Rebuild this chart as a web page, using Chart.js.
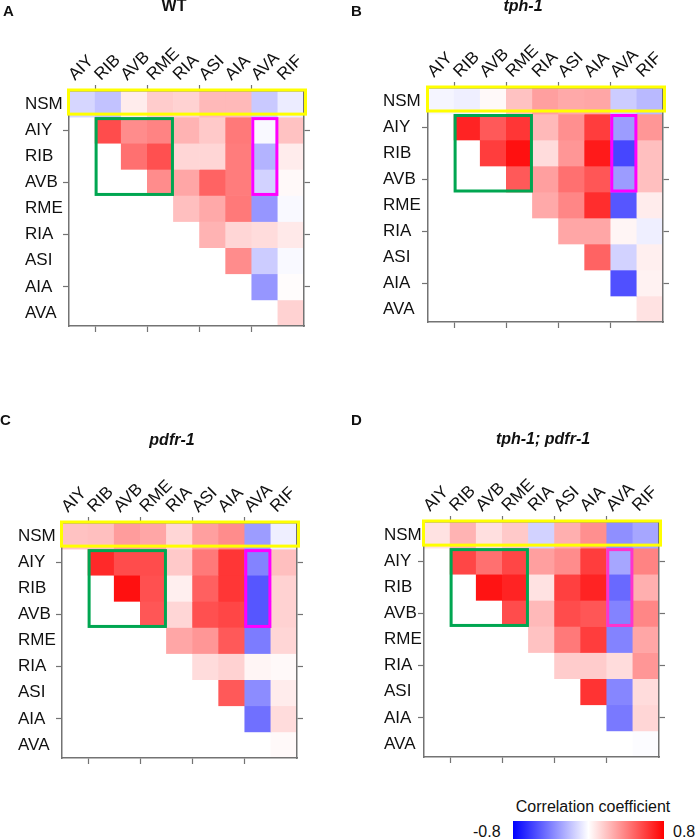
<!DOCTYPE html>
<html>
<head>
<meta charset="utf-8">
<script src="https://cdn.jsdelivr.net/npm/chart.js@4.4.0/dist/chart.umd.min.js"></script>
<style>
  body { margin: 0; width: 696px; height: 839px; position: relative; background: #fff; overflow: hidden;
         font-family: "Liberation Sans", Arial, sans-serif; color: #111; }
  canvas { position: absolute; }
  .txt { position: absolute; line-height: 1; white-space: nowrap; z-index: 2; }
  .letter { font-weight: bold; font-size: 15px; }
  .title { font-weight: bold; font-size: 16px; transform: translateX(-50%); }
  .it { font-style: italic; }
</style>
</head>
<body>
<div class="txt letter" style="left:3px;top:3px">A</div>
<div class="txt letter" style="left:351px;top:3px">B</div>
<div class="txt letter" style="left:0px;top:412px">C</div>
<div class="txt letter" style="left:351px;top:412px">D</div>
<div class="txt title" style="left:174px;top:-2px">WT</div>
<div class="txt title it" style="left:523px;top:-2px">tph-1</div>
<div class="txt title it" style="left:172px;top:432px">pdfr-1</div>
<div class="txt title it" style="left:543px;top:431px">tph-1; pdfr-1</div>

<canvas id="chartA" width="348" height="400" style="left:0;top:0"></canvas>
<canvas id="chartB" width="348" height="400" style="left:348px;top:0"></canvas>
<canvas id="chartC" width="348" height="380" style="left:0;top:400px"></canvas>
<canvas id="chartD" width="348" height="380" style="left:348px;top:400px"></canvas>

<div class="txt" style="left:593px;top:799px;font-size:16px;transform:translateX(-50%)">Correlation coefficient</div>
<div id="scaleMin" class="txt" style="left:473px;top:824px;font-size:16px"></div>
<div style="position:absolute;left:513px;top:821px;width:151px;height:18px;background:linear-gradient(to right,#0000ff,#ffffff 50%,#ff0000)"></div>
<div id="scaleMax" class="txt" style="left:673px;top:824px;font-size:16px"></div>

<script>
var rows = ['NSM', 'AIY', 'RIB', 'AVB', 'RME', 'RIA', 'ASI', 'AIA', 'AVA'];
var cols = ['AIY', 'RIB', 'AVB', 'RME', 'RIA', 'ASI', 'AIA', 'AVA', 'RIF'];
var scaleLabels = ['-0.8', '0.8'];
var scaleLimit = 0.8;

// row r holds the values for cols r..8
var wtValues = [
    [-0.13, -0.19, 0.06, 0.16, 0.14, 0.22, 0.22, -0.17, -0.06],
    [0.56, 0.36, 0.39, 0.24, 0.17, 0.42, -0.02, 0.19],
    [0.45, 0.55, 0.13, 0.13, 0.41, -0.24, 0.06],
    [0.36, 0.28, 0.49, 0.41, -0.14, 0.02],
    [0.20, 0.27, 0.42, -0.33, -0.02],
    [0.24, 0.13, 0.11, 0.07],
    [0.36, -0.16, -0.02],
    [-0.33, 0.01],
    [0.14]
];
var tphValues = [
    [-0.03, -0.05, 0.02, 0.19, 0.30, 0.27, 0.28, -0.16, -0.22],
    [0.69, 0.52, 0.63, 0.22, 0.35, 0.61, -0.31, 0.33],
    [0.61, 0.75, 0.11, 0.33, 0.72, -0.58, 0.20],
    [0.52, 0.30, 0.45, 0.53, -0.31, 0.20],
    [0.27, 0.38, 0.66, -0.53, 0.06],
    [0.28, 0.28, 0.03, -0.05],
    [0.49, -0.14, 0.05],
    [-0.55, 0.04],
    [0.09]
];
var pdfrValues = [
    [0.19, 0.20, 0.31, 0.28, 0.13, 0.30, 0.36, -0.31, -0.05],
    [0.67, 0.56, 0.56, 0.17, 0.42, 0.63, -0.39, 0.20],
    [0.75, 0.55, 0.05, 0.50, 0.63, -0.53, 0.14],
    [0.53, 0.13, 0.55, 0.58, -0.53, 0.14],
    [0.28, 0.33, 0.52, -0.41, 0.13],
    [0.11, 0.14, 0.03, 0.02],
    [0.52, -0.36, 0.06],
    [-0.45, 0.11],
    [0.02]
];
var doubleValues = [
    [0.09, 0.24, 0.10, 0.17, -0.14, 0.25, 0.35, -0.35, -0.28],
    [0.58, 0.45, 0.58, 0.30, 0.36, 0.61, -0.28, 0.39],
    [0.74, 0.69, 0.09, 0.60, 0.69, -0.47, 0.25],
    [0.56, 0.22, 0.56, 0.53, -0.39, 0.38],
    [0.19, 0.42, 0.61, -0.39, 0.28],
    [0.16, 0.16, 0.11, 0.33],
    [0.64, -0.38, 0.11],
    [-0.42, 0.13],
    [-0.01]
];

document.getElementById('scaleMin').textContent = scaleLabels[0];
document.getElementById('scaleMax').textContent = scaleLabels[1];

function corrColor(v) {
    var t = Math.min(Math.abs(v) / scaleLimit, 1);
    var c = Math.round(255 * (1 - t));
    return v >= 0 ? 'rgb(255,' + c + ',' + c + ')' : 'rgb(' + c + ',' + c + ',255)';
}

var gray = '#737373';
var none = 'rgba(0,0,0,0)';
var labelFont = { family: '"Liberation Sans", Arial, sans-serif', size: 17 };

// yellow / green / magenta frames on top of the cells
var boxPlugin = {
    id: 'boxes',
    afterDraw: function (chart) {
        var x = chart.scales.x, y = chart.scales.y, ctx = chart.ctx;
        var half = (x.getPixelForValue(1) - x.getPixelForValue(0)) / 2;
        function colEdge(c) { return x.getPixelForValue(c) - half; }
        function rowEdge(r) { return y.getPixelForValue(r - 0.5); }
        function frame(color, l, t, r, b) {
            ctx.save();
            ctx.strokeStyle = color;
            ctx.lineWidth = 3;
            ctx.strokeRect(l, t, r - l, b - t);
            ctx.restore();
        }
        var pink = chart.options.plugins.boxes.pink;
        frame('#ffff00', colEdge(0) - 0.5, rowEdge(0) - 1, colEdge(8) + 2 * half + 1.5, rowEdge(1) - 3);
        frame('#00a651', colEdge(1) + 1, rowEdge(1) + 1.5, colEdge(4) - 1, rowEdge(4) - 1);
        frame(pink, colEdge(7) + 1, rowEdge(1) + 1.5, colEdge(8) - 1, rowEdge(4) - 1);
    }
};

function makePanel(id, values, g, pink) {
    var canvas = document.getElementById(id);
    var W = canvas.width, H = canvas.height;

    var datasets = values.map(function (row, r) {
        return {
            data: cols.map(function (c, j) { return j >= r ? [r - 0.5, r + 0.5] : null; }),
            backgroundColor: cols.map(function (c, j) { return j >= r ? corrColor(row[j - r]) : none; }),
            borderWidth: 0,
            barPercentage: 1,
            categoryPercentage: 1,
            grouped: false
        };
    });

    function oddX(ctx) { return ctx.index % 2 === 1 ? gray : none; }
    function oddY(ctx) { return ctx.tick && ctx.tick.value % 2 === 1 ? gray : none; }
    function rowTicks(scale) {
        scale.ticks = rows.map(function (r, i) { return { value: i }; });
    }
    var border = { color: gray, width: 1.5, z: 1 };

    new Chart(canvas, {
        type: 'bar',
        data: { labels: cols, datasets: datasets },
        options: {
            responsive: false,
            animation: false,
            layout: { autoPadding: false, padding: { left: g.labelX, top: 0, right: 0, bottom: 0 } },
            plugins: {
                legend: { display: false },
                tooltip: { enabled: false },
                boxes: { pink: pink }
            },
            scales: {
                x: {
                    type: 'category', position: 'bottom', offset: true,
                    grid: { drawOnChartArea: false, tickLength: 6, tickWidth: 1.2, tickColor: oddX },
                    border: border,
                    ticks: { display: false },
                    afterFit: function (s) { s.height = H - g.top - g.h; }
                },
                x2: {
                    type: 'category', position: 'top', offset: true, labels: cols,
                    grid: { drawOnChartArea: false, tickLength: 6, tickWidth: 1.2, tickColor: oddX },
                    border: border,
                    ticks: { font: labelFont, color: '#111', minRotation: 45, maxRotation: 45,
                             autoSkip: false, labelOffset: 4, padding: 0 },
                    afterFit: function (s) { s.height = g.top; }
                },
                y: {
                    type: 'linear', position: 'left', min: -0.5, max: 8.5, reverse: true,
                    grid: { drawOnChartArea: false, tickLength: 6, tickWidth: 1.2, tickColor: oddY },
                    border: border,
                    afterBuildTicks: rowTicks,
                    ticks: { font: labelFont, color: '#111', crossAlign: 'far', autoSkip: false,
                             callback: function (v) { return rows[v]; } },
                    afterFit: function (s) { s.width = g.left - g.labelX; }
                },
                y2: {
                    type: 'linear', position: 'right', min: -0.5, max: 8.5, reverse: true,
                    grid: { drawOnChartArea: false, tickLength: 6, tickWidth: 1.2, tickColor: oddY },
                    border: border,
                    afterBuildTicks: rowTicks,
                    ticks: { display: false },
                    afterFit: function (s) { s.width = W - g.left - g.w; }
                }
            }
        },
        plugins: [boxPlugin]
    });
}

makePanel('chartA', wtValues,     { labelX: 25, left: 69, top: 91,  w: 235, h: 235 }, '#ff00ff');
makePanel('chartB', tphValues,    { labelX: 35, left: 80, top: 88,  w: 235, h: 234 }, '#ff00ff');
makePanel('chartC', pdfrValues,   { labelX: 18, left: 62, top: 123, w: 235, h: 235 }, '#ff00ff');
makePanel('chartD', doubleValues, { labelX: 36, left: 76, top: 122, w: 235, h: 235 }, '#ff33cc');
</script>
</body>
</html>
